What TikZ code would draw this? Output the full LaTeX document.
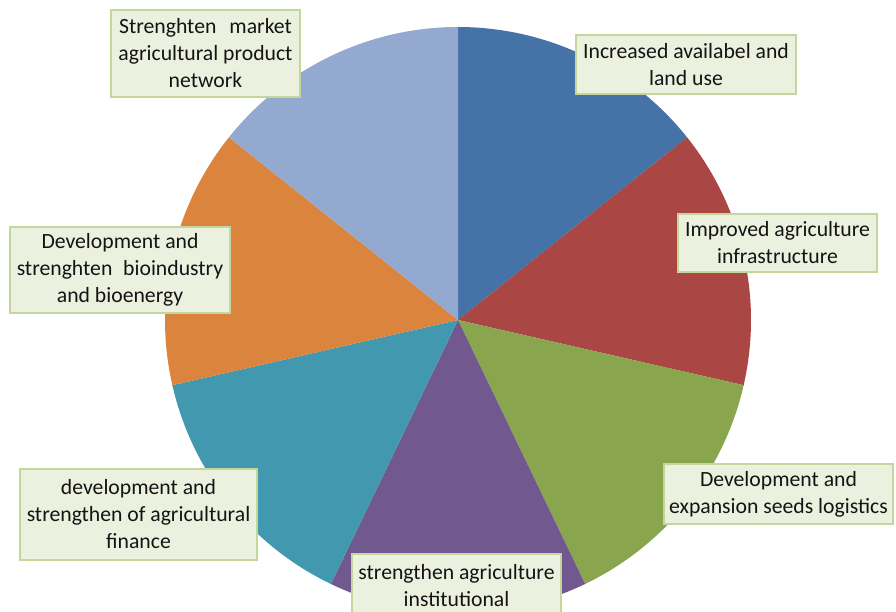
\documentclass[tikz,border=0pt]{standalone}
\usepackage{fontspec}
\setmainfont{Carlito}
\definecolor{cBlue}{HTML}{4572A7}
\definecolor{cRed}{HTML}{AA4643}
\definecolor{cGreen}{HTML}{89A54E}
\definecolor{cPurple}{HTML}{71588F}
\definecolor{cTeal}{HTML}{4198AF}
\definecolor{cOrange}{HTML}{DB843D}
\definecolor{cLight}{HTML}{93A9CF}
\definecolor{boxFill}{HTML}{EBF1DE}
\definecolor{boxLine}{HTML}{C3D69B}
\definecolor{txt}{HTML}{141414}
\tikzset{
  lbl/.style={draw=boxLine, line width=1.5pt, fill=boxFill, text=txt, align=center,
    inner sep=1pt, font=\fontsize{21.7}{27}\selectfont},
}
\begin{document}
\begin{tikzpicture}[x=1pt,y=1pt]
\useasboundingbox (0,0) rectangle (896,611);
\begin{scope}
\clip (0,0) rectangle (896,611);
\coordinate (C) at (458,291);
\def\R{293}
\fill[cBlue]   (C) -- ++(90:\R) arc[start angle=90, end angle=38.571, radius=\R] -- cycle;
\fill[cRed]    (C) -- ++(38.571:\R) arc[start angle=38.571, end angle=-12.857, radius=\R] -- cycle;
\fill[cGreen]  (C) -- ++(-12.857:\R) arc[start angle=-12.857, end angle=-64.286, radius=\R] -- cycle;
\fill[cPurple] (C) -- ++(-64.286:\R) arc[start angle=-64.286, end angle=-115.714, radius=\R] -- cycle;
\fill[cTeal]   (C) -- ++(-115.714:\R) arc[start angle=-115.714, end angle=-167.143, radius=\R] -- cycle;
\fill[cOrange] (C) -- ++(-167.143:\R) arc[start angle=-167.143, end angle=-218.571, radius=\R] -- cycle;
\fill[cLight]  (C) -- ++(-218.571:\R) arc[start angle=-218.571, end angle=-270, radius=\R] -- cycle;

\node[lbl, minimum width=189pt, minimum height=87pt] (l1) at (205.5,557.5)
  {Strenghten\hspace{0.6em}market\\agricultural product\\network};
\node[lbl, minimum width=220pt, minimum height=59pt] (l2) at (686,546.5)
  {Increased availabel and\\land use};
\node[lbl, minimum width=199pt, minimum height=58pt] (l3) at (777.5,368)
  {Improved agriculture\\infrastructure};
\node[lbl, minimum width=220pt, minimum height=86pt] (l4) at (120,341)
  {Development and\\strenghten\hspace{0.5em}bioindustry\\and bioenergy};
\node[lbl, minimum width=237pt, minimum height=91pt] (l5) at (138.5,96.5)
  {development and\\strengthen of agricultural\\finance};
\node[lbl, minimum width=209pt, minimum height=64pt] (l6) at (456.5,25)
  {strengthen agriculture\\institutional};
\node[lbl, minimum width=229pt, minimum height=60pt] (l7) at (778.5,117)
  {Development and\\expansion seeds logistics};
\end{scope}
\end{tikzpicture}
\end{document}
